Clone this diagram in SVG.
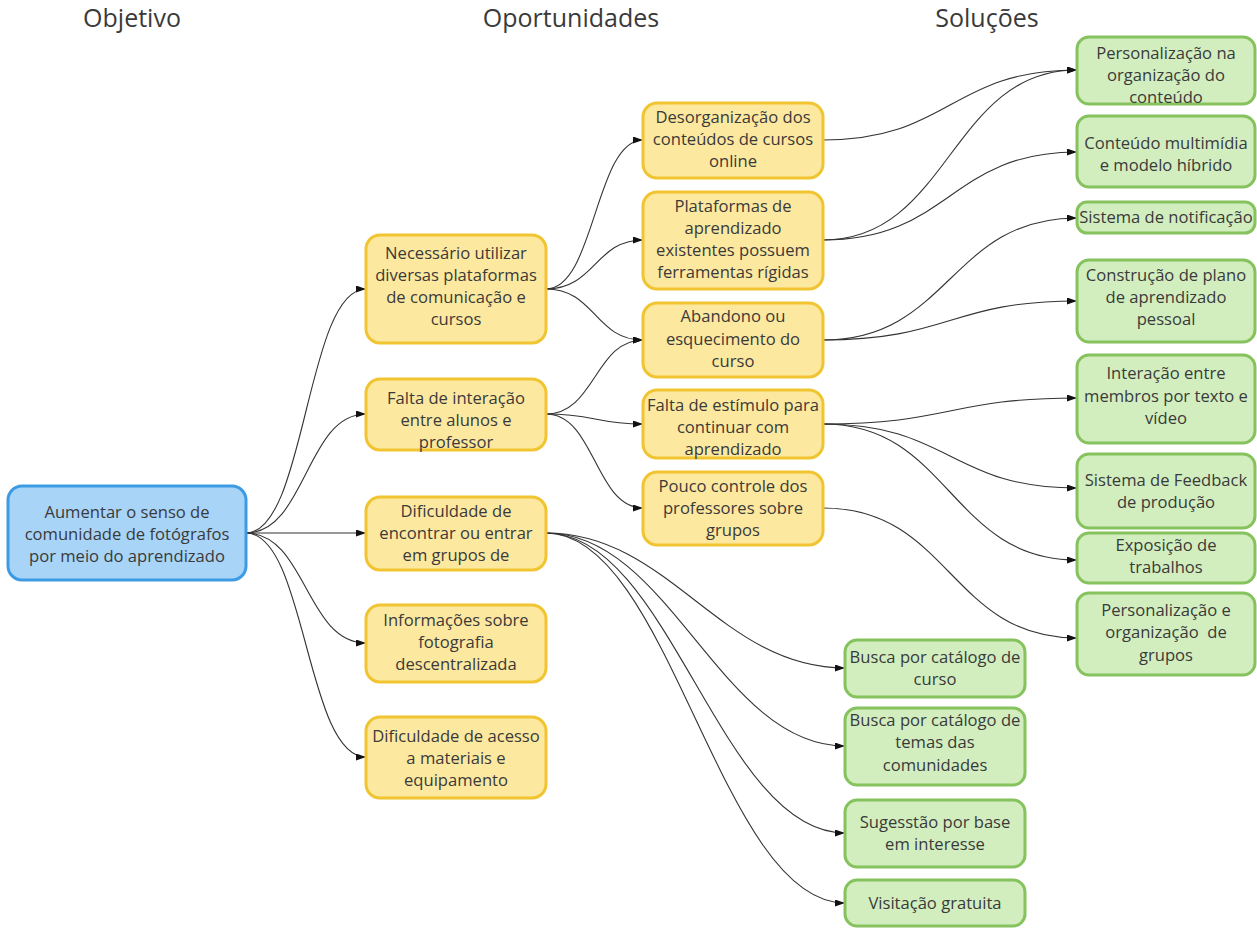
<svg xmlns="http://www.w3.org/2000/svg" width="1257" height="928" viewBox="0 0 1257 928">
<defs>
<marker id="arr" viewBox="0 0 10 7" refX="10" refY="3.5" markerWidth="10" markerHeight="7" markerUnits="userSpaceOnUse" orient="auto">
<path d="M0,0 L10,3.5 L0,7 Z" fill="#111"/>
</marker>
<style>
.hdr{font-family:"Open Sans","Liberation Sans",sans-serif;font-size:25px;fill:#3a3a3a;text-anchor:middle}
.t{font-family:"Open Sans","Liberation Sans",sans-serif;font-size:16.6px;fill:#3a3a3a;text-anchor:middle}
.blue{fill:#a8d4f8;stroke:#3d9be3;stroke-width:3}
.yel{fill:#fde89f;stroke:#f1c431;stroke-width:3}
.grn{fill:#d2eebf;stroke:#86c25d;stroke-width:3}
.e{fill:none;stroke:#333;stroke-width:1.1;marker-end:url(#arr)}
</style>
</defs>
<rect width="1257" height="928" fill="#fff"/>
<text class="hdr" x="132" y="27">Objetivo</text>
<text class="hdr" x="571" y="27">Oportunidades</text>
<text class="hdr" x="987" y="27">Soluções</text>

<g id="connectors">
<path class="e" d="M246,533 C306,533 306,289 366,289"/>
<path class="e" d="M246,533 C306,533 306,414 366,414"/>
<path class="e" d="M246,533 L366,533"/>
<path class="e" d="M246,533 C306,533 306,643 366,643"/>
<path class="e" d="M246,533 C306,533 306,757 366,757"/>
<path class="e" d="M546,289 C595,289 595,140 643,140"/>
<path class="e" d="M546,289 C595,289 595,240 643,240"/>
<path class="e" d="M546,289 C595,289 595,340 643,340"/>
<path class="e" d="M546,414 C595,414 595,340 643,340"/>
<path class="e" d="M546,414 C595,414 595,424 643,424"/>
<path class="e" d="M546,414 C595,414 595,508 643,508"/>
<path class="e" d="M546,533 C670,533 720,668 845,668"/>
<path class="e" d="M546,533 C670,533 720,746 845,746"/>
<path class="e" d="M546,533 C670,533 720,833 845,833"/>
<path class="e" d="M546,533 C670,533 720,903 845,903"/>
<path class="e" d="M823,140 C950,140 950,70 1077,70"/>
<path class="e" d="M823,240 C950,240 950,70 1077,70"/>
<path class="e" d="M823,240 C950,240 950,152 1077,152"/>
<path class="e" d="M823,340 C950,340 950,218 1077,218"/>
<path class="e" d="M823,340 C950,340 950,301 1077,301"/>
<path class="e" d="M823,424 C950,424 950,398 1077,398"/>
<path class="e" d="M823,424 C950,424 950,488 1077,488"/>
<path class="e" d="M823,424 C950,424 950,560 1077,560"/>
<path class="e" d="M823,508 C950,508 950,638 1077,638"/>
</g>

<g id="root"><rect class="blue" x="8" y="486" width="238" height="94" rx="14"/>
<text class="t" x="127" y="518">Aumentar o senso de</text><text class="t" x="127" y="540">comunidade de fotógrafos</text><text class="t" x="127" y="562">por meio do aprendizado</text></g>

<g id="m1"><rect class="yel" x="366" y="235" width="180" height="108" rx="14"/>
<text class="t" x="456" y="259">Necessário utilizar</text><text class="t" x="456" y="281">diversas plataformas</text><text class="t" x="456" y="303">de comunicação e</text><text class="t" x="456" y="325">cursos</text></g>
<g id="m2"><rect class="yel" x="366" y="379" width="180" height="71" rx="14"/>
<text class="t" x="456" y="404">Falta de interação</text><text class="t" x="456" y="426">entre alunos e</text><text class="t" x="456" y="448">professor</text></g>
<g id="m3"><rect class="yel" x="366" y="497" width="180" height="73" rx="14"/>
<text class="t" x="456" y="517">Dificuldade de</text><text class="t" x="456" y="539">encontrar ou entrar</text><text class="t" x="456" y="561">em grupos de</text></g>
<g id="m4"><rect class="yel" x="366" y="605" width="180" height="77" rx="14"/>
<text class="t" x="456" y="626">Informações sobre</text><text class="t" x="456" y="648">fotografia</text><text class="t" x="456" y="670">descentralizada</text></g>
<g id="m5"><rect class="yel" x="366" y="717" width="180" height="81" rx="14"/>
<text class="t" x="456" y="742">Dificuldade de acesso</text><text class="t" x="456" y="764">a materiais e</text><text class="t" x="456" y="786">equipamento</text></g>

<g id="a1"><rect class="yel" x="643" y="103" width="180" height="75" rx="14"/>
<text class="t" x="733" y="123">Desorganização dos</text><text class="t" x="733" y="145">conteúdos de cursos</text><text class="t" x="733" y="167">online</text></g>
<g id="a2"><rect class="yel" x="643" y="192" width="180" height="97" rx="14"/>
<text class="t" x="733" y="212">Plataformas de</text><text class="t" x="733" y="234">aprendizado</text><text class="t" x="733" y="256">existentes possuem</text><text class="t" x="733" y="278">ferramentas rígidas</text></g>
<g id="a3"><rect class="yel" x="643" y="303" width="180" height="74" rx="14"/>
<text class="t" x="733" y="322">Abandono ou</text><text class="t" x="733" y="345">esquecimento do</text><text class="t" x="733" y="367">curso</text></g>
<g id="a4"><rect class="yel" x="643" y="390" width="180" height="68" rx="14"/>
<text class="t" x="733" y="411">Falta de estímulo para</text><text class="t" x="733" y="433">continuar com</text><text class="t" x="733" y="455">aprendizado</text></g>
<g id="a5"><rect class="yel" x="643" y="472" width="180" height="73" rx="14"/>
<text class="t" x="733" y="492">Pouco controle dos</text><text class="t" x="733" y="514">professores sobre</text><text class="t" x="733" y="536">grupos</text></g>

<g id="r1"><rect class="grn" x="1077" y="37" width="178" height="67" rx="12"/>
<text class="t" x="1166" y="59">Personalização na</text><text class="t" x="1166" y="81">organização do</text><text class="t" x="1166" y="103">conteúdo</text></g>
<g id="r2"><rect class="grn" x="1077" y="116" width="178" height="71" rx="12"/>
<text class="t" x="1166" y="149">Conteúdo multimídia</text><text class="t" x="1166" y="171">e modelo híbrido</text></g>
<g id="r3"><rect class="grn" x="1077" y="202" width="178" height="31" rx="10"/>
<text class="t" x="1166" y="223">Sistema de notificação</text></g>
<g id="r4"><rect class="grn" x="1077" y="260" width="178" height="82" rx="12"/>
<text class="t" x="1166" y="281">Construção de plano</text><text class="t" x="1166" y="303">de aprendizado</text><text class="t" x="1166" y="325">pessoal</text></g>
<g id="r5"><rect class="grn" x="1077" y="355" width="178" height="88" rx="12"/>
<text class="t" x="1166" y="379">Interação entre</text><text class="t" x="1166" y="402">membros por texto e</text><text class="t" x="1166" y="424">vídeo</text></g>
<g id="r6"><rect class="grn" x="1077" y="454" width="178" height="74" rx="12"/>
<text class="t" x="1166" y="486">Sistema de Feedback</text><text class="t" x="1166" y="508">de produção</text></g>
<g id="r7"><rect class="grn" x="1077" y="533" width="178" height="50" rx="12"/>
<text class="t" x="1166" y="551">Exposição de</text><text class="t" x="1166" y="573">trabalhos</text></g>
<g id="r8"><rect class="grn" x="1077" y="593" width="178" height="82" rx="12"/>
<text class="t" x="1166" y="616">Personalização e</text><text class="t" x="1166" y="638" xml:space="preserve">organização  de</text><text class="t" x="1166" y="661">grupos</text></g>

<g id="b1"><rect class="grn" x="845" y="640" width="180" height="57" rx="12"/>
<text class="t" x="935" y="663">Busca por catálogo de</text><text class="t" x="935" y="685">curso</text></g>
<g id="b2"><rect class="grn" x="845" y="708" width="180" height="77" rx="12"/>
<text class="t" x="935" y="726">Busca por catálogo de</text><text class="t" x="935" y="748">temas das</text><text class="t" x="935" y="771">comunidades</text></g>
<g id="b3"><rect class="grn" x="845" y="800" width="180" height="67" rx="12"/>
<text class="t" x="935" y="828">Sugesstão por base</text><text class="t" x="935" y="850">em interesse</text></g>
<g id="b4"><rect class="grn" x="845" y="880" width="180" height="46" rx="12"/>
<text class="t" x="935" y="909">Visitação gratuita</text></g>
</svg>
